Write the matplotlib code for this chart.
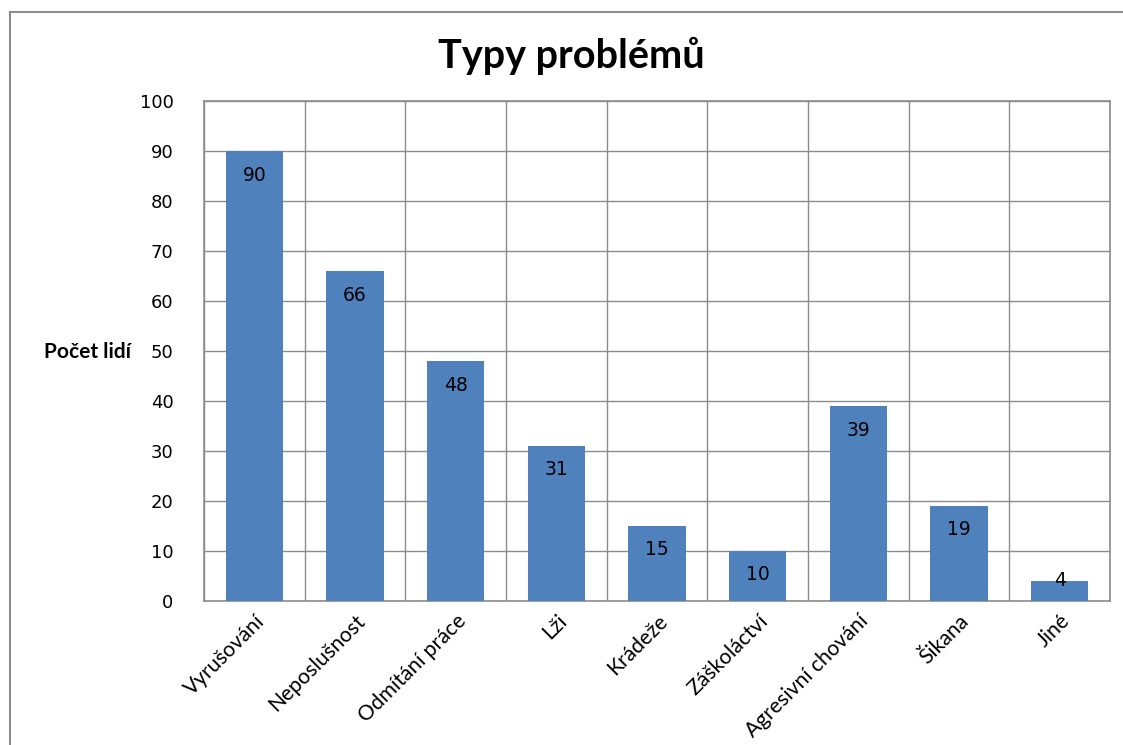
import matplotlib.pyplot as plt
from matplotlib.lines import Line2D
import numpy as np

plt.rcParams['font.family'] = ['Lato', 'DejaVu Sans']

kategorie = ['Vyrušování', 'Neposlušnost', 'Odmítání práce', 'Lži', 'Krádeže',
             'Záškoláctví', 'Agresivní chování', 'Šikana', 'Jiné']
pocty = [90, 66, 48, 31, 15, 10, 39, 19, 4]
y_ticks = [0, 10, 20, 30, 40, 50, 60, 70, 80, 90, 100]

fig = plt.figure(figsize=(11.23, 7.45), dpi=100)
ax = fig.add_axes([0.1817, 0.1933, 0.8067, 0.6711])

x = np.arange(len(kategorie))
ax.bar(x, pocty, width=0.57, color='#4F81BD', zorder=3)

# popisky hodnot uvnitř sloupců
for xi, v in zip(x, pocty):
    y_lab = v - 4.8 if v > 8 else v
    ax.text(xi, y_lab, str(v), ha='center', va='center', fontsize=13.5,
            family='DejaVu Sans', color='black', zorder=4)

ax.set_xlim(-0.5, len(kategorie) - 0.5)
ax.set_ylim(0, 100)
ax.set_yticks(y_ticks)
ax.set_yticklabels([str(t) for t in y_ticks], fontsize=13, family='DejaVu Sans')
ax.set_xticks(x)
ax.set_xticklabels(kategorie, rotation=45, ha='right', rotation_mode='anchor',
                   fontsize=15.2)
ax.tick_params(length=0, pad=7)
ax.tick_params(axis='y', pad=22)

# mřížka: vodorovné linky a hranice kategorií
for t in y_ticks:
    ax.axhline(t, color='#8c8c8c', lw=1, zorder=1)
for b in np.arange(-0.5, len(kategorie), 1):
    ax.axvline(b, color='#8c8c8c', lw=1, zorder=1)
for s in ax.spines.values():
    s.set_color('#8c8c8c')
    s.set_linewidth(1.2)

fig.text(0.509, 0.925, 'Typy problémů', ha='center', va='center',
         fontsize=28.5, fontweight='bold')
fig.text(0.078, 0.528, 'Počet lidí', ha='center', va='center',
         fontsize=15, fontweight='bold')

# rámeček grafu
fig.add_artist(Line2D([9.5 / 1123, 9.5 / 1123], [0, 1 - 12 / 745],
                      transform=fig.transFigure, color='#8c8c8c', lw=1.5))
fig.add_artist(Line2D([9.5 / 1123, 1], [1 - 12 / 745, 1 - 12 / 745],
                      transform=fig.transFigure, color='#8c8c8c', lw=1.5))

fig.savefig('out.png', dpi=100)
